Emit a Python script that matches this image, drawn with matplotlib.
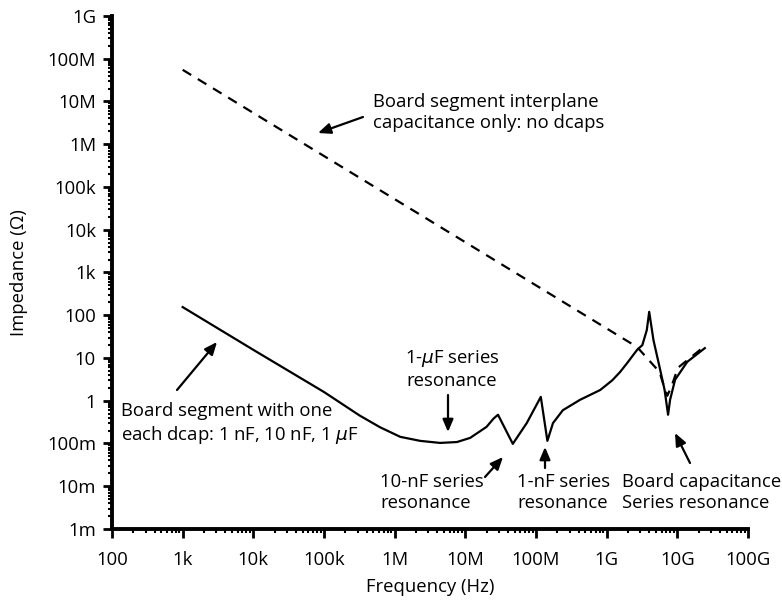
import matplotlib
matplotlib.use("Agg")
import matplotlib.pyplot as plt
from matplotlib.patches import FancyArrowPatch
from matplotlib.ticker import LogLocator, FixedLocator, NullFormatter

plt.rcParams['font.family'] = ['Open Sans', 'DejaVu Sans']
plt.rcParams['mathtext.fontset'] = 'dejavusans'

# Board with one each dcap (solid line)
freq_dcaps = [1e3, 1e4, 1e5, 3.2e5, 6.2e5, 1.2e6, 2.3e6,
              4.4e6, 7.6e6, 1.17e7, 2.0e7, 2.5e7, 2.9e7, 4.7e7, 7.4e7, 1.17e8,
              1.45e8, 1.74e8, 2.4e8, 4.2e8, 8.1e8, 1.2e9, 1.55e9, 1.95e9, 2.7e9,
              3.2e9, 3.7e9, 4.0e9, 4.6e9, 5.6e9, 6.6e9, 7.4e9, 7.9e9, 9.3e9,
              1.38e10, 2.45e10]
z_dcaps = [155, 15.5, 1.6, 0.45, 0.24, 0.143, 0.115,
           0.103, 0.108, 0.135, 0.245, 0.38, 0.47, 0.098, 0.30, 1.23,
           0.115, 0.30, 0.60, 1.05, 1.78, 3.0, 4.7, 7.6, 15.5,
           20, 45, 120, 26, 6.2, 1.8, 0.47, 1.05, 3.1,
           8.1, 17]

# Interplane capacitance only (dashed line)
freq_plane = [1e3, 2.7e9, 5.6e9, 6.3e9, 7.2e9, 8.3e9, 1.02e10, 2.45e10]
z_plane = [5.5e7, 18, 4.7, 2.5, 1.3, 2.2, 5.9, 19]

x_ticks = [1e2, 1e3, 1e4, 1e5, 1e6, 1e7, 1e8, 1e9, 1e10, 1e11]
x_labels = ['100', '1k', '10k', '100k', '1M', '10M', '100M', '1G', '10G', '100G']
y_ticks = [1e-3, 1e-2, 1e-1, 1e0, 1e1, 1e2, 1e3, 1e4, 1e5, 1e6, 1e7, 1e8, 1e9]
y_labels = ['1m', '10m', '100m', '1', '10', '100', '1k', '10k', '100k', '1M',
            '10M', '100M', '1G']

FS = 13.3

fig = plt.figure(figsize=(7.82, 6.02), dpi=100)
ax = fig.add_axes([0.1432, 0.1213, 0.8133, 0.8522])

ax.plot(freq_plane, z_plane, color='black', lw=1.6, linestyle=(0, (4.5, 3.5)))
ax.plot(freq_dcaps, z_dcaps, color='black', lw=1.6)

ax.set_xscale('log')
ax.set_yscale('log')
ax.set_xlim(1e2, 1e11)
ax.set_ylim(1e-3, 1e9)

ax.xaxis.set_major_locator(FixedLocator(x_ticks))
ax.set_xticklabels(x_labels)
ax.yaxis.set_major_locator(FixedLocator(y_ticks))
ax.set_yticklabels(y_labels)
ax.xaxis.set_minor_locator(LogLocator(base=10, subs=range(2, 10), numticks=50))
ax.yaxis.set_minor_locator(LogLocator(base=10, subs=range(2, 10), numticks=50))
ax.xaxis.set_minor_formatter(NullFormatter())
ax.yaxis.set_minor_formatter(NullFormatter())

for side in ['top', 'right']:
    ax.spines[side].set_visible(False)
for side in ['left', 'bottom']:
    ax.spines[side].set_linewidth(2.8)
ax.tick_params(which='major', length=6.5, width=2.0, labelsize=FS, direction='out')
ax.tick_params(axis='x', which='major', pad=9)
ax.tick_params(axis='y', which='major', pad=5)
ax.tick_params(which='minor', length=3, width=1.5, direction='out')

ax.set_xlabel('Frequency (Hz)', fontsize=FS)
ax.set_ylabel('Impedance (Ω)', fontsize=FS)
ax.xaxis.set_label_coords(0.5, -0.095)
ax.yaxis.set_label_coords(-0.132, 0.5)


def px(x, y):
    # figure pixel coords (top-left origin) -> figure fraction
    return (x / 782, 1 - y / 602)


def note(text, xy, tail, tip, ha='left'):
    fig.text(*px(*xy), text, fontsize=FS, ha=ha, va='top', linespacing=1.25)
    fig.add_artist(FancyArrowPatch(
        px(*tail), px(*tip), transform=fig.transFigure,
        arrowstyle='-|>,head_length=0.75,head_width=0.32', lw=1.6, color='black',
        shrinkA=0, shrinkB=0, mutation_scale=10))


note('Board segment interplane\ncapacitance only: no dcaps', (373, 93), (363, 117), (318, 133))
note('Board segment with one\neach dcap: 1 nF, 10 nF, 1 $\\mu$F', (121, 402), (177, 390), (217, 342))
note('1-$\\mu$F series\nresonance', (452, 348), (448, 395), (448, 432), ha='center')
note('10-nF series\nresonance', (380, 473), (485, 477), (503, 457))
note('1-nF series\nresonance', (517, 473), (545, 468), (545, 447))
note('Board capacitance\nSeries resonance', (622, 473), (690, 463), (675, 433))

fig.savefig('out.png', dpi=100)
